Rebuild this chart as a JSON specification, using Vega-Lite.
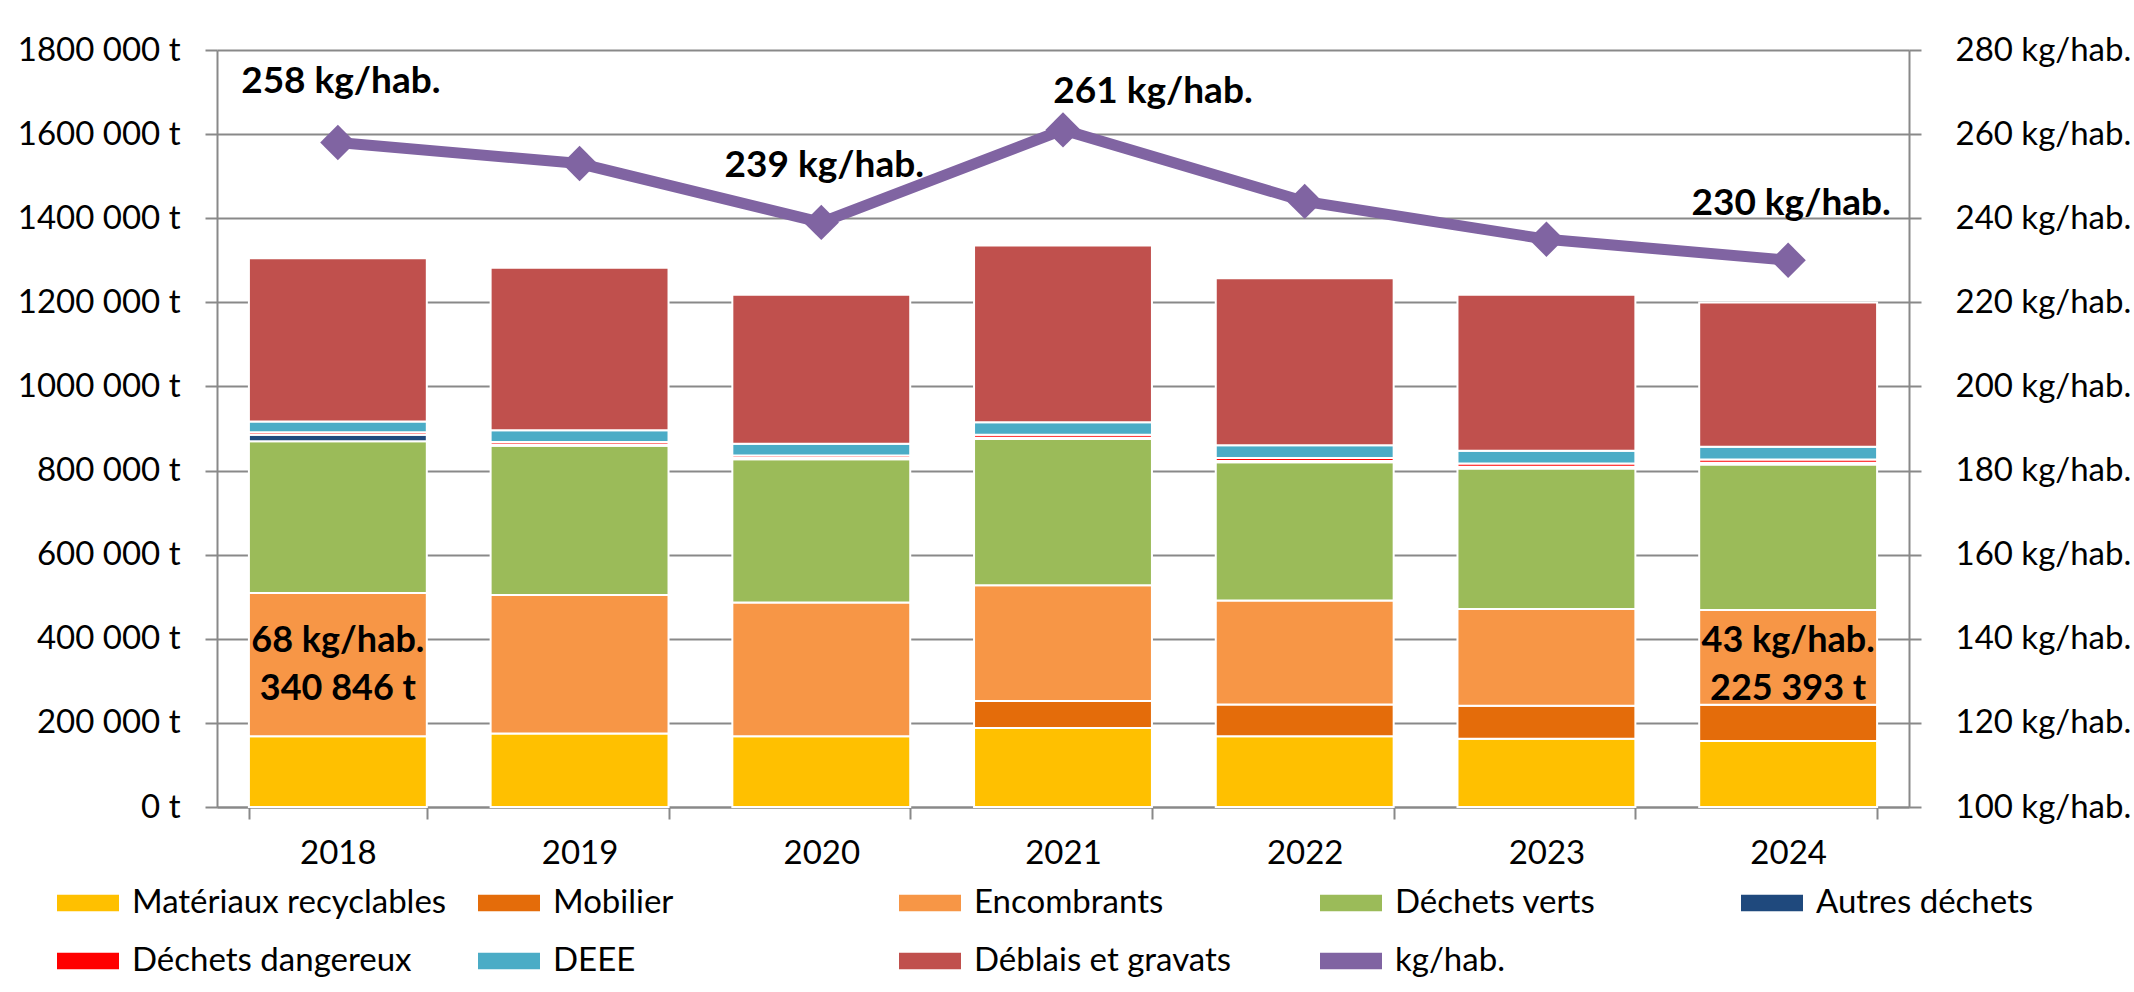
{
  "$schema": "https://vega.github.io/schema/vega-lite/v6.json",
  "width": 1692,
  "height": 757,
  "autosize": {"type": "none"},
  "padding": {"left": 217, "top": 50, "right": 225, "bottom": 185},
  "background": "white",
  "config": {"font": "Lato", "view": {"stroke": null}},
  "datasets": {
    "dechets": [
      {"annee": "2018", "categorie": "Matériaux recyclables", "rang": 1, "tonnes": 168000},
      {"annee": "2018", "categorie": "Encombrants", "rang": 3, "tonnes": 340846, "etiquette": "68 kg/hab.\n340 846 t"},
      {"annee": "2018", "categorie": "Déchets verts", "rang": 4, "tonnes": 361000},
      {"annee": "2018", "categorie": "Autres déchets", "rang": 5, "tonnes": 15000},
      {"annee": "2018", "categorie": "Déchets dangereux", "rang": 6, "tonnes": 6000},
      {"annee": "2018", "categorie": "DEEE", "rang": 7, "tonnes": 26000},
      {"annee": "2018", "categorie": "Déblais et gravats", "rang": 8, "tonnes": 388000},
      {"annee": "2019", "categorie": "Matériaux recyclables", "rang": 1, "tonnes": 175000},
      {"annee": "2019", "categorie": "Encombrants", "rang": 3, "tonnes": 329000},
      {"annee": "2019", "categorie": "Déchets verts", "rang": 4, "tonnes": 355000},
      {"annee": "2019", "categorie": "Autres déchets", "rang": 5, "tonnes": 3000},
      {"annee": "2019", "categorie": "Déchets dangereux", "rang": 6, "tonnes": 6000},
      {"annee": "2019", "categorie": "DEEE", "rang": 7, "tonnes": 28000},
      {"annee": "2019", "categorie": "Déblais et gravats", "rang": 8, "tonnes": 386000},
      {"annee": "2020", "categorie": "Matériaux recyclables", "rang": 1, "tonnes": 168000},
      {"annee": "2020", "categorie": "Encombrants", "rang": 3, "tonnes": 318000},
      {"annee": "2020", "categorie": "Déchets verts", "rang": 4, "tonnes": 341000},
      {"annee": "2020", "categorie": "Autres déchets", "rang": 5, "tonnes": 3000},
      {"annee": "2020", "categorie": "Déchets dangereux", "rang": 6, "tonnes": 6000},
      {"annee": "2020", "categorie": "DEEE", "rang": 7, "tonnes": 28000},
      {"annee": "2020", "categorie": "Déblais et gravats", "rang": 8, "tonnes": 354000},
      {"annee": "2021", "categorie": "Matériaux recyclables", "rang": 1, "tonnes": 188000},
      {"annee": "2021", "categorie": "Mobilier", "rang": 2, "tonnes": 64000},
      {"annee": "2021", "categorie": "Encombrants", "rang": 3, "tonnes": 275000},
      {"annee": "2021", "categorie": "Déchets verts", "rang": 4, "tonnes": 348000},
      {"annee": "2021", "categorie": "Autres déchets", "rang": 5, "tonnes": 3000},
      {"annee": "2021", "categorie": "Déchets dangereux", "rang": 6, "tonnes": 7000},
      {"annee": "2021", "categorie": "DEEE", "rang": 7, "tonnes": 30000},
      {"annee": "2021", "categorie": "Déblais et gravats", "rang": 8, "tonnes": 420000},
      {"annee": "2022", "categorie": "Matériaux recyclables", "rang": 1, "tonnes": 168000},
      {"annee": "2022", "categorie": "Mobilier", "rang": 2, "tonnes": 76000},
      {"annee": "2022", "categorie": "Encombrants", "rang": 3, "tonnes": 247000},
      {"annee": "2022", "categorie": "Déchets verts", "rang": 4, "tonnes": 329000},
      {"annee": "2022", "categorie": "Autres déchets", "rang": 5, "tonnes": 3000},
      {"annee": "2022", "categorie": "Déchets dangereux", "rang": 6, "tonnes": 7000},
      {"annee": "2022", "categorie": "DEEE", "rang": 7, "tonnes": 30000},
      {"annee": "2022", "categorie": "Déblais et gravats", "rang": 8, "tonnes": 397000},
      {"annee": "2023", "categorie": "Matériaux recyclables", "rang": 1, "tonnes": 162000},
      {"annee": "2023", "categorie": "Mobilier", "rang": 2, "tonnes": 79000},
      {"annee": "2023", "categorie": "Encombrants", "rang": 3, "tonnes": 230000},
      {"annee": "2023", "categorie": "Déchets verts", "rang": 4, "tonnes": 334000},
      {"annee": "2023", "categorie": "Autres déchets", "rang": 5, "tonnes": 4000},
      {"annee": "2023", "categorie": "Déchets dangereux", "rang": 6, "tonnes": 8000},
      {"annee": "2023", "categorie": "DEEE", "rang": 7, "tonnes": 30000},
      {"annee": "2023", "categorie": "Déblais et gravats", "rang": 8, "tonnes": 371000},
      {"annee": "2024", "categorie": "Matériaux recyclables", "rang": 1, "tonnes": 157000},
      {"annee": "2024", "categorie": "Mobilier", "rang": 2, "tonnes": 86000},
      {"annee": "2024", "categorie": "Encombrants", "rang": 3, "tonnes": 225393, "etiquette": "43 kg/hab.\n225 393 t"},
      {"annee": "2024", "categorie": "Déchets verts", "rang": 4, "tonnes": 346000},
      {"annee": "2024", "categorie": "Autres déchets", "rang": 5, "tonnes": 4000},
      {"annee": "2024", "categorie": "Déchets dangereux", "rang": 6, "tonnes": 8000},
      {"annee": "2024", "categorie": "DEEE", "rang": 7, "tonnes": 30000},
      {"annee": "2024", "categorie": "Déblais et gravats", "rang": 8, "tonnes": 343000}
    ],
    "ratio": [
      {"annee": "2018", "categorie": "kg/hab.", "kg": 258, "etiquette": "258 kg/hab."},
      {"annee": "2019", "categorie": "kg/hab.", "kg": 253},
      {"annee": "2020", "categorie": "kg/hab.", "kg": 239, "etiquette": "239 kg/hab."},
      {"annee": "2021", "categorie": "kg/hab.", "kg": 261, "etiquette": "261 kg/hab."},
      {"annee": "2022", "categorie": "kg/hab.", "kg": 244},
      {"annee": "2023", "categorie": "kg/hab.", "kg": 235},
      {"annee": "2024", "categorie": "kg/hab.", "kg": 230, "etiquette": "230 kg/hab."}
    ]
  },
  "layer": [
    {
      "data": {"name": "dechets"},
      "layer": [
        {
          "mark": {"type": "bar", "stroke": "white", "strokeWidth": 2},
          "encoding": {
            "x": {
              "field": "annee", "type": "nominal",
              "scale": {"type": "band", "paddingInner": 0.264, "paddingOuter": 0.132},
              "axis": {
                "title": null, "labelAngle": 0, "labelFontSize": 33, "labelColor": "black",
                "labelPadding": 18, "domainColor": "#898989", "domainWidth": 2,
                "tickColor": "#898989", "tickWidth": 2, "tickSize": 12, "tickBand": "extent", "grid": false
              }
            },
            "y": {
              "field": "tonnes", "type": "quantitative", "stack": "zero",
              "scale": {"domain": [0, 1800000], "nice": false},
              "axis": {
                "title": null, "orient": "left",
                "values": [0, 200000, 400000, 600000, 800000, 1000000, 1200000, 1400000, 1600000, 1800000],
                "labelExpr": "datum.value == 0 ? '0 t' : (floor(datum.value / 1000) + ' 000 t')",
                "labelFontSize": 33, "labelColor": "black", "labelPadding": 25,
                "tickSize": 12, "tickColor": "#898989", "tickWidth": 2,
                "domainColor": "#898989", "domainWidth": 2,
                "grid": true, "gridColor": "#898989", "gridWidth": 2
              }
            },
            "color": {
              "field": "categorie", "type": "nominal",
              "scale": {
                "domain": ["Matériaux recyclables", "Mobilier", "Encombrants", "Déchets verts", "Autres déchets", "Déchets dangereux", "DEEE", "Déblais et gravats", "kg/hab."],
                "range": ["#FFC000", "#E46C0A", "#F79646", "#9BBB59", "#1F497D", "#FF0000", "#4BACC6", "#C0504D", "#8064A2"]
              },
              "legend": {
                "title": null, "orient": "none", "legendX": -160, "legendY": 822,
                "direction": "horizontal", "columns": 5, "gridAlign": "all",
                "columnPadding": 31, "rowPadding": 10, "padding": 0,
                "symbolType": "M-1,-0.27H1V0.27H-1Z", "symbolSize": 3844,
                "symbolStrokeWidth": 0, "labelFontSize": 33, "labelColor": "black",
                "labelOffset": 13, "labelLimit": 600,
                "encode": {
                  "symbols": {
                    "update": {
                      "shape": {"signal": "datum.value === 'kg/hab.' ? 'M-0.9,-0.19H0.9V0.19H-0.9Z M-0.22,0L0,-0.38L0.22,0L0,0.38Z' : 'M-1,-0.27H1V0.27H-1Z'"},
                      "fill": {"scale": "color", "field": "value"},
                      "opacity": {"value": 1},
                      "strokeWidth": {"value": 0}
                    }
                  }
                }
              }
            },
            "order": {"field": "rang", "type": "quantitative"}
          }
        },
        {
          "transform": [
            {"stack": "tonnes", "groupby": ["annee"], "sort": [{"field": "rang", "order": "ascending"}], "as": ["t0", "t1"]},
            {"filter": "datum.annee == '2018' && datum.categorie == 'Encombrants'"}
          ],
          "mark": {"type": "text", "fontWeight": "bold", "fontSize": 36, "lineHeight": 48, "lineBreak": "\n", "baseline": "middle", "dy": 48, "color": "black"},
          "encoding": {
            "x": {"field": "annee", "type": "nominal"},
            "y": {"field": "t1", "type": "quantitative"},
            "text": {"field": "etiquette"}
          }
        },
        {
          "transform": [
            {"stack": "tonnes", "groupby": ["annee"], "sort": [{"field": "rang", "order": "ascending"}], "as": ["t0", "t1"]},
            {"filter": "datum.annee == '2024' && datum.categorie == 'Encombrants'"}
          ],
          "mark": {"type": "text", "fontWeight": "bold", "fontSize": 36, "lineHeight": 48, "lineBreak": "\n", "baseline": "middle", "dy": 31, "color": "black"},
          "encoding": {
            "x": {"field": "annee", "type": "nominal"},
            "y": {"field": "t1", "type": "quantitative"},
            "text": {"field": "etiquette"}
          }
        }
      ]
    },
    {
      "data": {"name": "ratio"},
      "layer": [
        {
          "mark": {"type": "line", "strokeWidth": 11, "point": {"shape": "diamond", "size": 1250, "filled": true}},
          "encoding": {
            "x": {"field": "annee", "type": "nominal"},
            "y": {
              "field": "kg", "type": "quantitative",
              "scale": {"domain": [100, 280], "nice": false},
              "axis": {
                "title": null, "orient": "right",
                "values": [100, 120, 140, 160, 180, 200, 220, 240, 260, 280],
                "labelExpr": "datum.value + ' kg/hab.'",
                "labelFontSize": 33, "labelColor": "black", "labelPadding": 34,
                "tickSize": 12, "tickColor": "#898989", "tickWidth": 2,
                "domainColor": "#898989", "domainWidth": 2, "grid": false
              }
            },
            "color": {"field": "categorie", "type": "nominal"}
          }
        },
        {
          "transform": [{"filter": "datum.annee == '2018'"}],
          "mark": {"type": "text", "fontWeight": "bold", "fontSize": 37, "baseline": "alphabetic", "dy": -50, "dx": 3, "color": "black"},
          "encoding": {
            "x": {"field": "annee", "type": "nominal"},
            "y": {"field": "kg", "type": "quantitative"},
            "text": {"field": "etiquette"}
          }
        },
        {
          "transform": [{"filter": "datum.annee == '2020' || datum.annee == '2024'"}],
          "mark": {"type": "text", "fontWeight": "bold", "fontSize": 37, "baseline": "alphabetic", "dy": -45, "dx": 3, "color": "black"},
          "encoding": {
            "x": {"field": "annee", "type": "nominal"},
            "y": {"field": "kg", "type": "quantitative"},
            "text": {"field": "etiquette"}
          }
        },
        {
          "transform": [{"filter": "datum.annee == '2021'"}],
          "mark": {"type": "text", "fontWeight": "bold", "fontSize": 37, "baseline": "alphabetic", "dy": -27, "dx": 90, "color": "black"},
          "encoding": {
            "x": {"field": "annee", "type": "nominal"},
            "y": {"field": "kg", "type": "quantitative"},
            "text": {"field": "etiquette"}
          }
        }
      ]
    }
  ],
  "resolve": {"scale": {"y": "independent"}}
}
